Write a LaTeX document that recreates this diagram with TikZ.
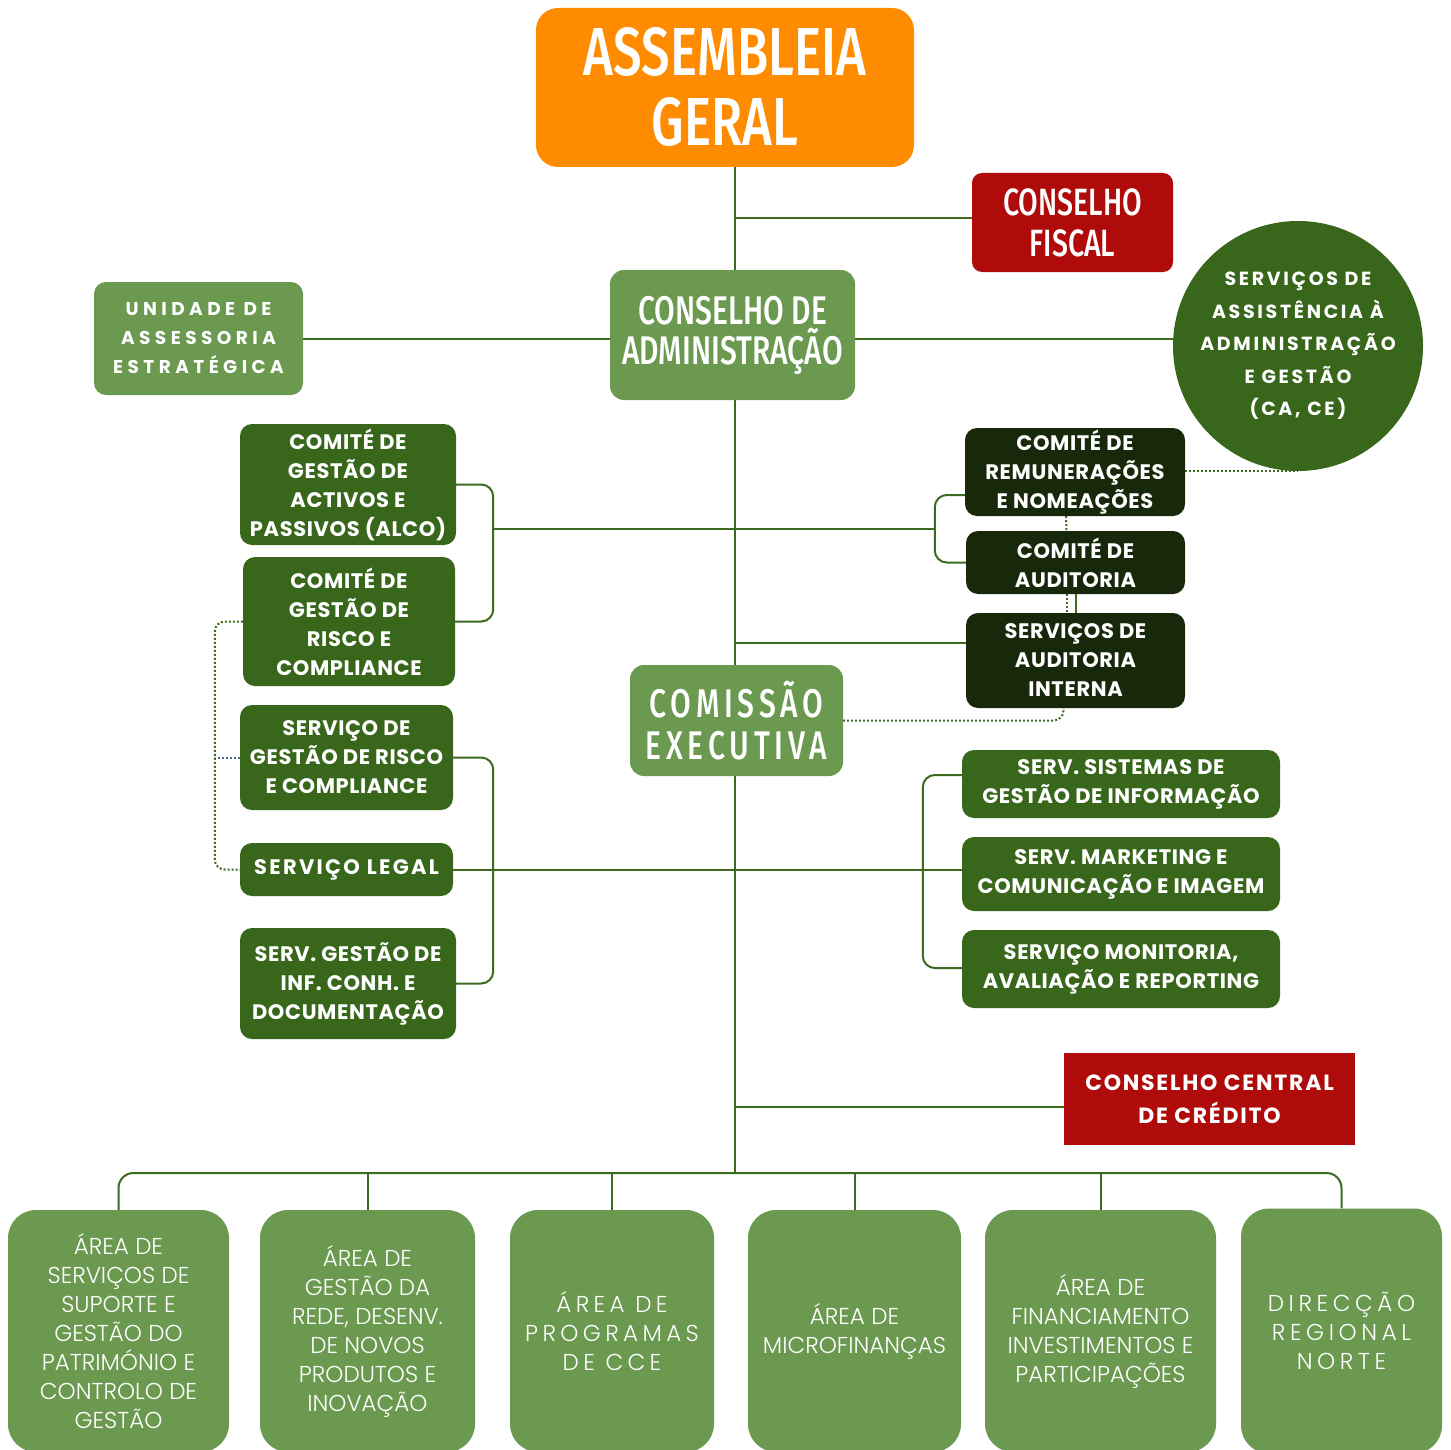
\documentclass[tikz,border=0pt]{standalone}
\usepackage{fontspec}
\setmainfont{Poppins}
\newfontfamily\headfont[FakeStretch=0.75]{Fira Sans Medium}
\newfontfamily\lightfont{Poppins Light}
\usepackage{tikz}
\usetikzlibrary{calc}
\pgfdeclarelayer{back}
\pgfsetlayers{back,main}
\definecolor{agorange}{HTML}{FF8C00}
\definecolor{cfred}{HTML}{B00B0B}
\definecolor{midgreen}{HTML}{6A994F}
\definecolor{darkgreen}{HTML}{38671B}
\definecolor{deepgreen}{HTML}{18280B}
\definecolor{linegreen}{HTML}{3C6B20}
\definecolor{dotblue}{HTML}{5A6AA0}
\tikzset{
	box/.style = { rounded corners = 12, inner sep = 0, align = center, text = white },
	headbox/.style = { box, rounded corners = 14,
		font = \headfont\fontsize{40}{40}\selectfont },
	darkbox/.style = { box, fill = darkgreen,
		font = \bfseries\fontsize{21}{29}\selectfont\addfontfeatures{LetterSpace=3} },
	deepbox/.style = { darkbox, fill = deepgreen },
	areabox/.style = { box, fill = midgreen, rounded corners = 28, minimum height = 242,
		font = \lightfont\fontsize{23}{29}\selectfont },
	link/.style = { draw = linegreen, line width = 2 },
	dotlink/.style = { draw = linegreen, line width = 2, dash pattern = on 2 off 2 },
}

\begin{document}
\begin{tikzpicture}[x=1pt, y=-1pt]
	\useasboundingbox (0,0) rectangle (1451,1450);
	\clip (0,0) rectangle (1451,1450);

	\node [headbox, fill=agorange, rounded corners=22, minimum width=378, minimum height=159,
		font=\headfont\fontsize{68}{70}\selectfont] (ag) at (725,87.5)
		{ASSEMBLEIA\\GERAL};
	\node [headbox, fill=cfred, rounded corners=10, minimum width=201, minimum height=99,
		font=\headfont\fontsize{38}{41}\selectfont] (cf) at (1072.5,222.5)
		{CONSELHO\\FISCAL};
	\node [headbox, fill=midgreen, minimum width=245, minimum height=130] (ca) at (732.5,335)
		{CONSELHO DE\\ADMINISTRAÇÃO};
	\node [box, fill=midgreen, minimum width=209, minimum height=113,
		font=\bfseries\fontsize{18.5}{29}\selectfont\addfontfeatures{LetterSpace=24}] (uae) at (198.5,338.5)
		{UNIDADE DE\\ASSESSORIA\\ESTRATÉGICA};
	\node [circle, fill=darkgreen, minimum size=250, inner sep=0, align=center, text=white,
		font=\bfseries\fontsize{19}{32.5}\selectfont\addfontfeatures{LetterSpace=14}] (sag) at (1298,346)
		{SERVIÇOS DE\\ASSISTÊNCIA À\\ADMINISTRAÇÃO\\E GESTÃO\\(CA, CE)};

	\node [darkbox, minimum width=216, minimum height=121] (alco) at (348,484.5)
		{COMITÉ DE\\GESTÃO DE\\ACTIVOS E\\PASSIVOS (ALCO)};
	\node [darkbox, minimum width=212, minimum height=129] (cgr) at (349,621.5)
		{COMITÉ DE\\GESTÃO DE\\RISCO E\\COMPLIANCE};
	\node [deepbox, minimum width=220, minimum height=88] (crn) at (1075,472)
		{COMITÉ DE\\REMUNERAÇÕES\\E NOMEAÇÕES};
	\node [deepbox, minimum width=219, minimum height=63] (cau) at (1075.5,562.5)
		{COMITÉ DE\\AUDITORIA};
	\node [deepbox, minimum width=219, minimum height=95] (sai) at (1075.5,660.5)
		{SERVIÇOS DE\\AUDITORIA\\INTERNA};

	\node [headbox, fill=midgreen, minimum width=213, minimum height=111,
		font=\headfont\fontsize{40}{42}\selectfont\addfontfeatures{LetterSpace=12}] (ce) at (736.5,720.5)
		{COMISSÃO\\EXECUTIVA};

	\node [darkbox, minimum width=213, minimum height=105] (sgr) at (346.5,757.5)
		{SERVIÇO DE\\GESTÃO DE RISCO\\E COMPLIANCE};
	\node [darkbox, minimum width=213, minimum height=53,
		font=\bfseries\fontsize{21}{29}\selectfont\addfontfeatures{LetterSpace=11}] (sl) at (346.5,869.5)
		{SERVIÇO LEGAL};
	\node [darkbox, minimum width=216, minimum height=111] (sgi) at (348,983.5)
		{SERV. GESTÃO DE\\INF. CONH. E\\DOCUMENTAÇÃO};

	\node [darkbox, minimum width=318, minimum height=68] (ssi) at (1121,784)
		{SERV. SISTEMAS DE\\GESTÃO DE INFORMAÇÃO};
	\node [darkbox, minimum width=318, minimum height=74] (smk) at (1121,874)
		{SERV. MARKETING E\\COMUNICAÇÃO E IMAGEM};
	\node [darkbox, minimum width=318, minimum height=78] (smo) at (1121,969)
		{SERVIÇO MONITORIA,\\AVALIAÇÃO E REPORTING};

	\node [box, fill=cfred, rounded corners=0, minimum width=291, minimum height=92,
		font=\bfseries\fontsize{22}{33}\selectfont\addfontfeatures{LetterSpace=8}] (ccc) at (1209.5,1099)
		{CONSELHO CENTRAL\\DE CRÉDITO};

	\node [areabox, minimum width=221] (b1) at (118.5,1331)
		{ÁREA DE\\SERVIÇOS DE\\SUPORTE E\\GESTÃO DO\\PATRIMÓNIO E\\CONTROLO DE\\GESTÃO};
	\node [areabox, minimum width=215] (b2) at (367.5,1331)
		{ÁREA DE\\GESTÃO DA\\REDE, DESENV.\\DE NOVOS\\PRODUTOS E\\INOVAÇÃO};
	\node [areabox, minimum width=204,
		font=\lightfont\fontsize{23}{29}\selectfont\addfontfeatures{LetterSpace=19}] (b3) at (612,1331)
		{ÁREA DE\\PROGRAMAS\\DE CCE};
	\node [areabox, minimum width=213] (b4) at (854.5,1331)
		{ÁREA DE\\MICROFINANÇAS};
	\node [areabox, minimum width=231] (b5) at (1100.5,1331)
		{ÁREA DE\\FINANCIAMENTO\\INVESTIMENTOS E\\PARTICIPAÇÕES};
	\node [areabox, minimum width=201, minimum height=245,
		font=\lightfont\fontsize{23}{29}\selectfont\addfontfeatures{LetterSpace=20}] (b6) at (1341.5,1331)
		{DIRECÇÃO\\REGIONAL\\NORTE};

	\coordinate (bus) at (735,1173);

	\begin{pgfonlayer}{back}
		\fill [white] (0,0) rectangle (1451,1450);
		\draw [link] (ag.south -| bus) -- (bus);
		\draw [link] ([yshift=4]cf.west) -- ([yshift=4]cf.west -| bus);
		\draw [link] (uae.east) -- (uae.east -| sag.west);

		\draw [link, rounded corners=12] (alco.east) -- ++(37,0) |- (cgr.east);
		\draw [link, rounded corners=12] ([yshift=-23]crn.west) -- ++(-30,0) |- (cau.west);
		\draw [link] ($(alco.east)+(37,44.5)$) -- ($(cau.west)+(-30,-33.5)$);
		\draw [link] ([yshift=18]sai.west) -- ([yshift=18]sai.west -| bus);
		\draw [link] (cau.south) -- (sai.north);

		\draw [dotlink] (sag.south -| crn.east) -- (sag.south);
		\draw [dotlink] ([xshift=-9]crn.south) -- ([xshift=-9]cau.north);
		\draw [dotlink] ([xshift=-9]cau.south) -- ([xshift=-9]sai.north);
		\draw [dotlink, rounded corners=10] (ce.east) -| ([xshift=-12]sai.south);

		\draw [link, rounded corners=12] (sgr.east) -- ++(40,0) |- (sgi.east);
		\draw [link] (sl.east) -- (sl.east -| smk.west);
		\draw [link, rounded corners=12] ([yshift=9]ssi.west) -- ++(-39,0) |- ([yshift=1]smo.west);
		\draw [dotlink, rounded corners=10] (cgr.west) -- ++(-28,0) |- (sl.west);
		\draw [dotlink, draw=dotblue] (sgr.west) -- ++(-25,0);

		\draw [link] ([yshift=-8]ccc.west) -- ([yshift=-8]ccc.west -| bus);

		\draw [link, rounded corners=15] (b1.north) |- (bus) -| (b6.north);
		\foreach \b in {b2,b3,b4,b5}
			\draw [link] (\b.north) -- (\b.north |- bus);
	\end{pgfonlayer}
\end{tikzpicture}
\end{document}
